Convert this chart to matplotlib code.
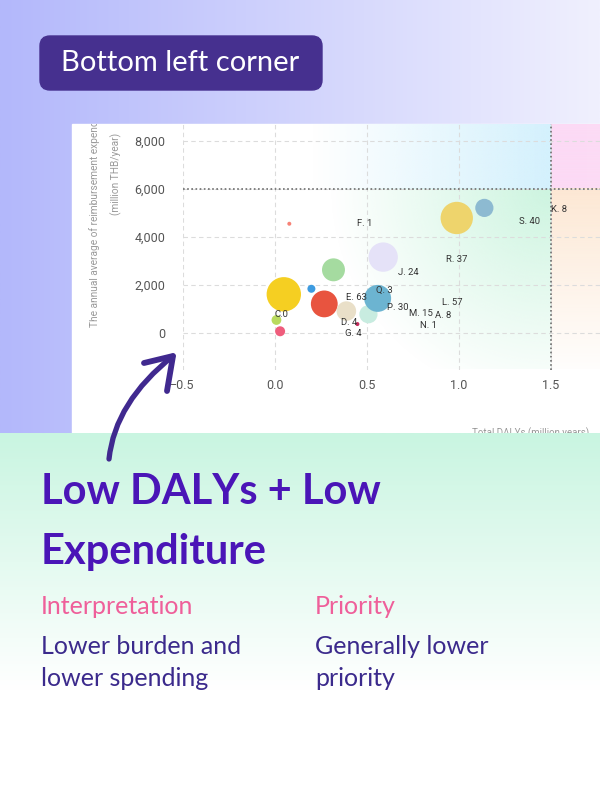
import numpy as np
import matplotlib.pyplot as plt
from matplotlib.patches import FancyBboxPatch, PathPatch, Rectangle
from matplotlib.path import Path
from matplotlib.colors import to_rgb
from matplotlib.transforms import Bbox, TransformedBbox

# bubbles: total DALYs (million years) vs annual reimbursement (million THB/year)
bubble_x = [0.05, 0.20, 0.27, 0.32, 0.39, 0.51, 0.56, 0.59, 0.99, 1.14, 0.08, 0.01, 0.03, 0.45]
bubble_y = [1600, 1830, 1200, 2620, 900, 770, 1430, 3150, 4780, 5200, 4540, 530, 60, 360]
bubble_value = [296, 16, 180, 132, 96, 83, 182, 216, 262, 83, 4, 24, 25, 4]
bubble_colors = ['#f5cf22', '#3d9be0', '#e8543f', '#a5dba0', '#e9dfc8', '#c8ece0', '#6cb4d1',
                 '#e5e2f8', '#eed46c', '#8dbad1', '#f78276', '#b9da5e', '#ef5d7c', '#c42a5c']

label_text = ['F. 1', 'E. 63', 'Q. 3', 'C.0', 'D. 4', 'G. 4', 'P. 30', 'M. 15',
              'A. 8', 'N. 1', 'L. 57', 'J. 24', 'R. 37', 'S. 40', 'K. 8']
label_x = [0.45, 0.39, 0.55, 0.0, 0.36, 0.38, 0.61, 0.73, 0.87, 0.79, 0.91, 0.67, 0.93, 1.33, 1.50]
label_y = [4540, 1480, 1740, 740, 430, -50, 1060, 810, 700, 290, 1240, 2500, 3060, 4630, 5130]

x_ticks = [-0.5, 0.0, 0.5, 1.0, 1.5]
y_ticks = [0, 2000, 4000, 6000, 8000]
daly_cut = 1.5
spend_cut = 6000

fig = plt.figure(figsize=(6, 7.9), dpi=100)

# background layer in pixel coordinates
bg = fig.add_axes([0, 0, 1, 1], zorder=0)
bg.set_xlim(0, 600)
bg.set_ylim(790, 0)
bg.axis('off')


def hgrad(c1, c2, n=256):
    a, b = np.array(to_rgb(c1)), np.array(to_rgb(c2))
    t = np.linspace(0, 1, n)[None, :, None]
    return a + (b - a) * t


bg.imshow(hgrad('#b3b8fb', '#f0f0fe'), extent=(0, 600, 433, 0), aspect='auto')
bg.add_patch(Rectangle((72, 124), 528, 309, color='white', zorder=2))

# axis titles, cut off by the card edges like the screenshot
clip = TransformedBbox(Bbox([[72 / 600, (790 - 433) / 790], [1, (790 - 124) / 790]]),
                       fig.transFigure)
ylab1 = bg.text(95, 327, 'The annual average of reimbursement expenditure', rotation=90,
                ha='center', va='bottom', fontsize=7.3, color='#9a9a9a', family='Roboto',
                zorder=3)
ylab2 = bg.text(116, 174, '(million THB/year)', rotation=90, ha='center', va='center',
                fontsize=7.3, color='#9a9a9a', family='Roboto', zorder=3)
for t in (ylab1, ylab2):
    t.set_clip_path(None)
    t.set_clip_box(clip)
    t.set_clip_on(True)
bg.text(589, 433, 'Total DALYs (million years)', ha='right', va='center',
        fontsize=7.0, color='#9a9a9a', family='Roboto', zorder=3)

# chart
ax = fig.add_axes([182.6 / 600, (790 - 369.5) / 790, 417.4 / 600, 245.5 / 790], zorder=1)
ax.patch.set_alpha(0)
x0, x1 = -0.5, 1.7685
y0, y1 = -1533, 8696
ax.set_xlim(x0, x1)
ax.set_ylim(y0, y1)


def quad(color, extent, alpha_fn):
    xs = np.linspace(extent[0], extent[1], 200)
    ys = np.linspace(extent[3], extent[2], 200)
    X, Y = np.meshgrid(xs, ys)
    img = np.zeros((200, 200, 4))
    img[..., :3] = to_rgb(color)
    img[..., 3] = np.clip(alpha_fn(X, Y), 0, 1)
    ax.imshow(img, extent=extent, aspect='auto', zorder=0, interpolation='bilinear')


quad('#cdf5e0', (x0, daly_cut, y0, spend_cut),
     lambda X, Y: 1 - np.hypot((daly_cut - X) / 1.2, (spend_cut - Y) / 9000))
quad('#d4f1fd', (x0, daly_cut, spend_cut, y1),
     lambda X, Y: 1 - (daly_cut - X) / 1.3)
quad('#fcdaf5', (daly_cut, x1, spend_cut, y1), lambda X, Y: 1 - 0.1 * (X - daly_cut))
quad('#fde8d4', (daly_cut, x1, y0, spend_cut),
     lambda X, Y: 1 - (spend_cut - Y) / 8000)

ax.set_xticks(x_ticks)
ax.set_yticks(y_ticks)
ax.set_yticklabels([f'{v:,}' for v in y_ticks])
ax.tick_params(length=0, labelsize=9, labelcolor='#555555', pad=12.5)
ax.tick_params(axis='x', pad=7)
for lab in ax.get_xticklabels() + ax.get_yticklabels():
    lab.set_family('Roboto')
ax.grid(True, color='#dcdcdc', linestyle=(0, (4, 3)), linewidth=0.8, zorder=0.5)
ax.set_axisbelow(True)
for s in ax.spines.values():
    s.set_visible(False)

ax.axhline(spend_cut, color='#6e6e6e', linestyle=(0, (1, 1.5)), linewidth=1.2, zorder=1)
ax.axvline(daly_cut, color='#6e6e6e', linestyle=(0, (1, 1.5)), linewidth=1.2, zorder=1)

ax.scatter(bubble_x, bubble_y, s=np.array(bubble_value) * 2.07, c=bubble_colors,
           linewidths=0, zorder=2)
for txt, lx, ly in zip(label_text, label_x, label_y):
    ax.text(lx, ly, txt, ha='left', va='center', fontsize=6.8, color='#333333',
            family='Roboto', zorder=3)

# overlay: bottom card, pill, arrow, text
ov = fig.add_axes([0, 0, 1, 1], zorder=3)
ov.set_xlim(0, 600)
ov.set_ylim(790, 0)
ov.axis('off')
ov.patch.set_alpha(0)

t = np.clip(np.linspace(0, 1, 256) / 0.72, 0, 1)[:, None, None]
mint = np.array(to_rgb('#c9f5e1'))
ov.imshow(mint + (1 - mint) * t, extent=(0, 600, 790, 433), aspect='auto', zorder=0)

ov.add_patch(FancyBboxPatch((40, 36), 282, 54, boxstyle='round,pad=0,rounding_size=10',
                            color='#46308f', zorder=1))
ov.text(61, 63, 'Bottom left corner', color='white', fontsize=21, family='Lato',
        va='center', ha='left', zorder=2)

shaft = Path([(109, 459), (115, 402), (173, 356)], [Path.MOVETO, Path.CURVE3, Path.CURVE3])
ov.add_patch(PathPatch(shaft, fill=False, edgecolor='#40298f', linewidth=3.8,
                       capstyle='round', zorder=4))
ov.plot([144, 173, 167], [363, 356, 391], color='#40298f', linewidth=4.2,
        solid_capstyle='round', solid_joinstyle='round', zorder=4)

purple = '#4a15b7'
ov.text(41, 492, 'Low DALYs + Low', color=purple, fontsize=30, fontweight='bold',
        family='Lato', va='center', ha='left')
ov.text(41, 552, 'Expenditure', color=purple, fontsize=30, fontweight='bold',
        family='Lato', va='center', ha='left')
pink = '#ef5f9a'
body = '#3b2a8c'
ov.text(41, 606, 'Interpretation', color=pink, fontsize=18, family='Lato', va='center')
ov.text(315, 606, 'Priority', color=pink, fontsize=18, family='Lato', va='center')
ov.text(41, 646, 'Lower burden and', color=body, fontsize=18, family='Lato', va='center')
ov.text(41, 678, 'lower spending', color=body, fontsize=18, family='Lato', va='center')
ov.text(315, 646, 'Generally lower', color=body, fontsize=18, family='Lato', va='center')
ov.text(315, 678, 'priority', color=body, fontsize=18, family='Lato', va='center')

fig.savefig('out.png', dpi=100)
